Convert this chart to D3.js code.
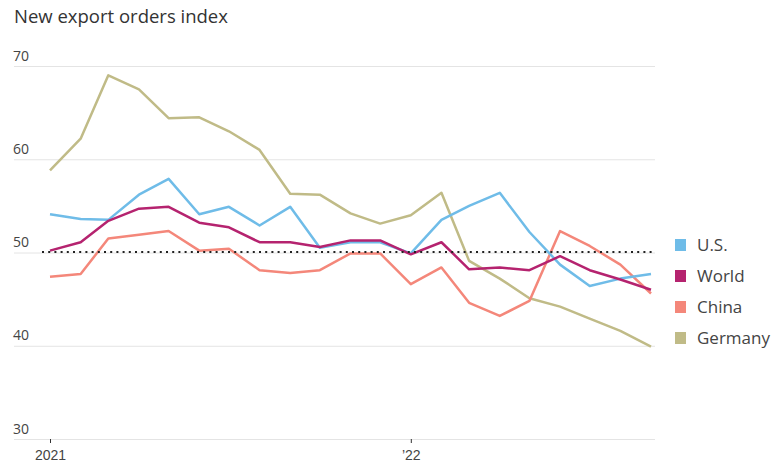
<!DOCTYPE html>
<html>
<head>
<meta charset="utf-8">
<script src="https://cdn.jsdelivr.net/npm/d3@7"></script>
<style>
body { margin: 0; background: #fff; }
svg { display: block; font-family: "Open Sans", "Noto Sans", sans-serif; }
</style>
</head>
<body>
<div id="chart"></div>
<script>
const months = ["2021-01","2021-02","2021-03","2021-04","2021-05","2021-06","2021-07","2021-08","2021-09","2021-10","2021-11","2021-12",
                "2022-01","2022-02","2022-03","2022-04","2022-05","2022-06","2022-07","2022-08","2022-09"];
const us      = [54.1,53.6,53.5,56.2,57.9,54.1,54.9,52.9,54.9,50.5,51.1,51.1,49.9,53.5,55.0,56.4,52.2,48.7,46.4,47.2,47.7];
const world   = [50.2,51.1,53.4,54.7,54.9,53.2,52.7,51.1,51.1,50.6,51.3,51.3,49.8,51.1,48.2,48.4,48.1,49.6,48.1,47.1,46.0];
const china   = [47.4,47.7,51.5,51.9,52.3,50.2,50.4,48.1,47.8,48.1,49.9,49.9,46.6,48.4,44.6,43.2,44.8,52.3,50.7,48.7,45.6];
const germany = [58.8,62.2,69.0,67.5,64.4,64.5,63.0,61.0,56.3,56.2,54.2,53.1,54.0,56.4,49.1,47.2,45.1,44.2,42.9,41.6,39.9];
const seriesNames = ["U.S.","World","China","Germany"];
const seriesColors = ["#6fbce8","#b5236f","#f4877a","#c0bb87"];
const yTicks = [30,40,50,60,70];
const xTickDates = ["2021-01","2022-01"];
const xTickLabels = ["2021","\u201922"];
const title = "New export orders index";

const W = 778, H = 466;
const parse = d3.utcParse("%Y-%m");
const dates = months.map(parse);

const svg = d3.select("#chart").append("svg").attr("width", W).attr("height", H);

const x = d3.scaleUtc().domain([dates[0], dates[dates.length-1]]).range([50, 651]);
const y = d3.scaleLinear().domain([30,70]).range([439, 66]);
const gridLeft = 14, gridRight = 655;

svg.append("text").attr("x", 14).attr("y", 23).attr("font-size", 18.5).attr("fill", "#333").text(title);

// y grid + labels
const yAxis = svg.append("g").attr("transform", `translate(${gridLeft},0)`)
  .call(d3.axisRight(y).tickValues(yTicks).tickSize(gridRight - gridLeft).tickFormat(d3.format("d")));
yAxis.select(".domain").remove();
yAxis.selectAll(".tick line").attr("stroke", "#e4e4e4").attr("stroke-width", 1);
yAxis.selectAll(".tick text").attr("x", -1).attr("dy", -6).attr("text-anchor", "start")
  .attr("font-size", 14).attr("fill", "#444").attr("font-family", "'Open Sans', sans-serif");

// x axis
const xAxis = svg.append("g").attr("transform", `translate(0,${y(30)})`)
  .call(d3.axisBottom(x).tickValues(xTickDates.map(parse)).tickSize(4)
    .tickFormat((d,i) => xTickLabels[i]));
xAxis.select(".domain").remove();
xAxis.selectAll(".tick line").attr("stroke", "#333");
xAxis.selectAll(".tick text").attr("dy", 14).attr("font-size", 14).attr("fill", "#444");

// series
const allSeries = [us, world, china, germany];
const drawOrder = [3, 2, 0, 1];
const line = d3.line().x((d,i) => x(dates[i])).y(d => y(d));
drawOrder.forEach(k => {
  svg.append("path").datum(allSeries[k]).attr("d", line)
    .attr("fill", "none").attr("stroke", seriesColors[k]).attr("stroke-width", 2.5)
    .attr("stroke-linejoin", "round");
});

// dotted reference at 50
svg.append("line").attr("x1", 42).attr("x2", gridRight).attr("y1", y(50) - 0.5).attr("y2", y(50) - 0.5)
  .attr("stroke", "#222").attr("stroke-width", 2).attr("stroke-dasharray", "2,4.2");

// legend
const lg = svg.append("g");
seriesNames.forEach((n, i) => {
  const cy = 245 + i * 31;
  lg.append("rect").attr("x", 675).attr("y", cy - 6).attr("width", 11).attr("height", 12).attr("fill", seriesColors[i]);
  lg.append("text").attr("x", 697).attr("y", cy + 6).attr("font-size", 17).attr("fill", "#444").text(n);
});
</script>
</body>
</html>
